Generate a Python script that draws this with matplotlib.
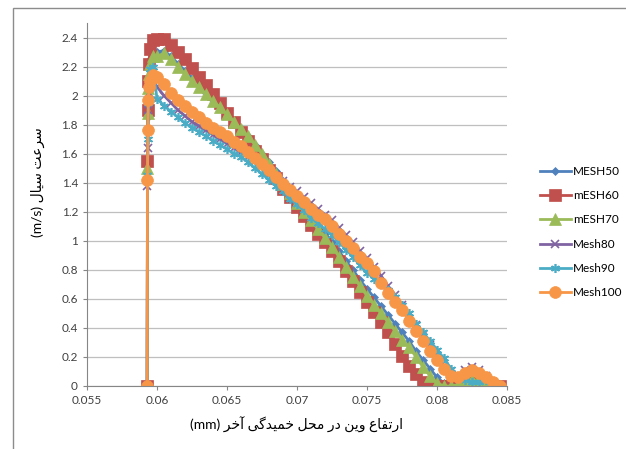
import numpy as np
import matplotlib.pyplot as plt
from matplotlib.patches import Rectangle

# x positions (mm): the steep rise at the wall, then the main run
x_rise = [0.0593, 0.05932, 0.05935, 0.05938, 0.05942, 0.0595, 0.0597]
x_main = [0.0600, 0.0605, 0.0610, 0.0615, 0.0620, 0.0625, 0.0630, 0.0635, 0.0640, 0.0645,
          0.0650, 0.0655, 0.0660, 0.0665, 0.0670, 0.0675, 0.0680, 0.0685, 0.0690, 0.0695,
          0.0700, 0.0705, 0.0710, 0.0715, 0.0720, 0.0725, 0.0730, 0.0735, 0.0740, 0.0745,
          0.0750, 0.0755, 0.0760, 0.0765, 0.0770, 0.0775, 0.0780, 0.0785, 0.0790, 0.0795,
          0.0800, 0.0805, 0.0810, 0.0815, 0.0820, 0.0825, 0.0830, 0.0835, 0.0840, 0.0845]

mesh50 = [0, 1.52, 1.85, 2.05, 2.18, 2.25, 2.30,
          2.30, 2.31, 2.27, 2.22, 2.17, 2.12, 2.07, 2.02, 1.97, 1.92,
          1.87, 1.82, 1.77, 1.72, 1.66, 1.60, 1.54, 1.48, 1.41, 1.35,
          1.29, 1.23, 1.17, 1.11, 1.05, 0.99, 0.93, 0.86, 0.80, 0.73,
          0.67, 0.61, 0.55, 0.49, 0.43, 0.37, 0.31, 0.24, 0.18, 0.12,
          0.06, 0.02, 0.01, 0.02, 0.04, 0.05, 0.05, 0.03, 0.01, 0.0]
mesh60 = [0, 1.55, 1.90, 2.10, 2.22, 2.32, 2.38,
          2.39, 2.39, 2.35, 2.30, 2.25, 2.19, 2.13, 2.07, 2.01, 1.95,
          1.88, 1.82, 1.75, 1.69, 1.62, 1.56, 1.49, 1.43, 1.36, 1.30,
          1.23, 1.17, 1.11, 1.05, 0.99, 0.93, 0.86, 0.79, 0.72, 0.65,
          0.58, 0.51, 0.44, 0.37, 0.29, 0.21, 0.14, 0.08, 0.03, 0.01,
          0.0, 0.0, 0.0, 0.0, 0.01, 0.02, 0.02, 0.01, 0.0, 0.0]
mesh70 = [0, 1.50, 1.88, 2.05, 2.15, 2.22, 2.27,
          2.27, 2.29, 2.25, 2.20, 2.15, 2.10, 2.06, 2.01, 1.96, 1.92,
          1.87, 1.82, 1.77, 1.72, 1.66, 1.60, 1.53, 1.46, 1.39, 1.33,
          1.26, 1.20, 1.14, 1.08, 1.02, 0.96, 0.89, 0.82, 0.75, 0.69,
          0.62, 0.56, 0.50, 0.44, 0.38, 0.32, 0.27, 0.20, 0.13, 0.07,
          0.02, 0.0, 0.0, 0.01, 0.02, 0.04, 0.04, 0.03, 0.01, 0.0]
mesh80 = [0, 1.38, 1.64, 1.90, 2.02, 2.08, 2.12,
          2.06, 2.00, 1.95, 1.90, 1.86, 1.82, 1.79, 1.76, 1.73, 1.70,
          1.67, 1.64, 1.61, 1.58, 1.55, 1.52, 1.48, 1.45, 1.41, 1.37,
          1.34, 1.30, 1.26, 1.22, 1.18, 1.14, 1.09, 1.04, 0.99, 0.93,
          0.88, 0.82, 0.76, 0.69, 0.63, 0.56, 0.49, 0.42, 0.35, 0.28,
          0.21, 0.14, 0.08, 0.07, 0.11, 0.13, 0.11, 0.07, 0.03, 0.0]
mesh90 = [0, 1.45, 1.70, 1.95, 2.10, 2.18, 2.20,
          1.98, 1.93, 1.89, 1.85, 1.81, 1.78, 1.75, 1.72, 1.69, 1.66,
          1.63, 1.60, 1.58, 1.54, 1.50, 1.46, 1.42, 1.38, 1.34, 1.29,
          1.25, 1.21, 1.16, 1.12, 1.08, 1.04, 0.99, 0.94, 0.89, 0.83,
          0.78, 0.74, 0.70, 0.66, 0.61, 0.56, 0.50, 0.43, 0.37, 0.31,
          0.25, 0.19, 0.12, 0.07, 0.04, 0.03, 0.03, 0.04, 0.03, 0.0]
mesh100 = [0, 1.42, 1.76, 1.97, 2.06, 2.10, 2.14,
           2.13, 2.08, 2.02, 1.97, 1.93, 1.89, 1.85, 1.81, 1.78, 1.75,
           1.72, 1.68, 1.65, 1.61, 1.57, 1.53, 1.49, 1.44, 1.39, 1.35,
           1.31, 1.27, 1.22, 1.18, 1.15, 1.10, 1.05, 1.00, 0.95, 0.89,
           0.85, 0.79, 0.71, 0.64, 0.58, 0.52, 0.45, 0.38, 0.31, 0.24,
           0.18, 0.12, 0.07, 0.06, 0.09, 0.11, 0.09, 0.06, 0.03, 0.0]

labels = ['MESH50', 'mESH60', 'mESH70', 'Mesh80', 'Mesh90', 'Mesh100']
xticks = [0.055, 0.06, 0.065, 0.07, 0.075, 0.08, 0.085]
xtick_labels = ['0.055', '0.06', '0.065', '0.07', '0.075', '0.08', '0.085']
yticks = [0, 0.2, 0.4, 0.6, 0.8, 1, 1.2, 1.4, 1.6, 1.8, 2, 2.2, 2.4]
ytick_labels = ['0', '0.2', '0.4', '0.6', '0.8', '1', '1.2', '1.4', '1.6', '1.8', '2', '2.2', '2.4']

xlabel_fa = 'ارتفاع وین در محل خمیدگی آخر'
ylabel_fa = 'سرعت سیال'

# matplotlib has no arabic shaping, so pick the contextual forms by hand
forms = {
    'ا': ('\ufe8d', '\ufe8e', None, None),
    'آ': ('\ufe81', '\ufe82', None, None),
    'ر': ('\ufead', '\ufeae', None, None),
    'د': ('\ufea9', '\ufeaa', None, None),
    'و': ('\ufeed', '\ufeee', None, None),
    'ت': ('\ufe95', '\ufe96', '\ufe97', '\ufe98'),
    'ف': ('\ufed1', '\ufed2', '\ufed3', '\ufed4'),
    'ع': ('\ufec9', '\ufeca', '\ufecb', '\ufecc'),
    'ن': ('\ufee5', '\ufee6', '\ufee7', '\ufee8'),
    'م': ('\ufee1', '\ufee2', '\ufee3', '\ufee4'),
    'ح': ('\ufea1', '\ufea2', '\ufea3', '\ufea4'),
    'ل': ('\ufedd', '\ufede', '\ufedf', '\ufee0'),
    'خ': ('\ufea5', '\ufea6', '\ufea7', '\ufea8'),
    'س': ('\ufeb1', '\ufeb2', '\ufeb3', '\ufeb4'),
    'ی': ('\ufbfc', '\ufbfd', '\ufbfe', '\ufbff'),
    'گ': ('\ufb92', '\ufb93', '\ufb94', '\ufb95'),
}


def shape_fa(s):
    out = []
    for i, c in enumerate(s):
        if c not in forms:
            out.append(c)
            continue
        prev = s[i - 1] if i > 0 else ''
        nxt = s[i + 1] if i + 1 < len(s) else ''
        join_prev = prev in forms and forms[prev][2] is not None
        join_next = nxt in forms and forms[c][2] is not None
        iso, fin, ini, med = forms[c]
        if join_prev and join_next:
            out.append(med)
        elif join_prev:
            out.append(fin)
        elif join_next:
            out.append(ini)
        else:
            out.append(iso)
    return ''.join(out)[::-1]


plt.rcParams['font.family'] = ['Lato', 'DejaVu Sans']

colors = ['#4F81BD', '#C0504D', '#9BBB59', '#8064A2', '#4BACC6', '#F79646']
markers = ['D', 's', '^', 'x', (6, 2, 0), 'o']
msizes = [4.5, 8, 8, 5.5, 6.5, 8.5]

fig = plt.figure(figsize=(6.26, 4.49), dpi=100)
fig.patches.append(Rectangle((13 / 626, -0.1), 1.2, 1 - 8 / 449 + 0.1, transform=fig.transFigure,
                             fill=False, edgecolor='#8c8c8c', linewidth=1.0))
ax = fig.add_axes([87 / 626, 63 / 449, 420 / 626, 363 / 449])

x = x_rise + x_main
series = [mesh50, mesh60, mesh70, mesh80, mesh90, mesh100]
for vals, lab, col, mk, ms in zip(series, labels, colors, markers, msizes):
    ax.plot(x, vals, color=col, marker=mk, markersize=ms, linewidth=2,
            markeredgewidth=1.2 if mk in ('x', (6, 2, 0)) else 0.5,
            markeredgecolor=col, label=lab)

ax.set_xlim(0.055, 0.085)
ax.set_ylim(0, 2.5)
ax.set_xticks(xticks)
ax.set_xticklabels(xtick_labels)
ax.set_yticks(yticks)
ax.set_yticklabels(ytick_labels)
ax.tick_params(labelsize=8.5, colors='#404040', length=3, width=0.8)
ax.tick_params(axis='both', color='#868686')
ax.grid(axis='y', color='#bfbfbf', linewidth=0.9)
ax.set_axisbelow(True)
for side in ['top', 'right']:
    ax.spines[side].set_visible(False)
for side in ['left', 'bottom']:
    ax.spines[side].set_color('#868686')

fig.text(297 / 626, 1 - 425 / 449, '(mm) ' + shape_fa(xlabel_fa), ha='center', va='center', fontsize=10)
fig.text(38 / 626, 1 - 182 / 449, '(m/s) ' + shape_fa(ylabel_fa), ha='center', va='center',
         rotation=90, fontsize=10)

fig.legend(loc='upper left', bbox_to_anchor=(540 / 626, 1 - 166 / 449), frameon=False,
           fontsize=8.5, handlelength=2.6, handletextpad=0.2, labelspacing=1.12,
           borderpad=0, borderaxespad=0)

fig.savefig('out.png', dpi=100)
